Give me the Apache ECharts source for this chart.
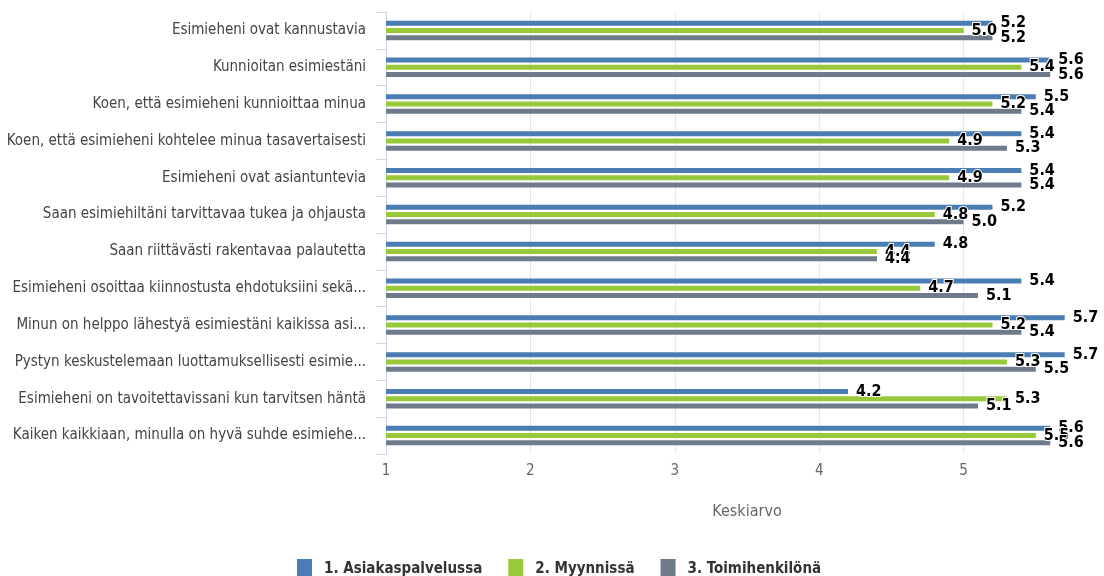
<!DOCTYPE html>
<html>
<head>
<meta charset="utf-8">
<style>
  html, body { margin: 0; padding: 0; background: #ffffff; }
  #chart { width: 1104px; height: 576px; }
</style>
<script src="https://cdn.jsdelivr.net/npm/echarts@6/dist/echarts.min.js"></script>
</head>
<body>
<div id="chart"></div>
<script>
// Questions shown on the category axis, top to bottom
const categories = [
  'Esimieheni ovat kannustavia',
  'Kunnioitan esimiestäni',
  'Koen, että esimieheni kunnioittaa minua',
  'Koen, että esimieheni kohtelee minua tasavertaisesti',
  'Esimieheni ovat asiantuntevia',
  'Saan esimiehiltäni tarvittavaa tukea ja ohjausta',
  'Saan riittävästi rakentavaa palautetta',
  'Esimieheni osoittaa kiinnostusta ehdotuksiini sekä...',
  'Minun on helppo lähestyä esimiestäni kaikissa asi...',
  'Pystyn keskustelemaan luottamuksellisesti esimie...',
  'Esimieheni on tavoitettavissani kun tarvitsen häntä',
  'Kaiken kaikkiaan, minulla on hyvä suhde esimiehe...'
];

const seriesNames = ['1. Asiakaspalvelussa', '2. Myynnissä', '3. Toimihenkilönä'];

// Mean scores per group
const asiakaspalvelussa = [5.2, 5.6, 5.5, 5.4, 5.4, 5.2, 4.8, 5.4, 5.7, 5.7, 4.2, 5.6];
const myynnissa        = [5.0, 5.4, 5.2, 4.9, 4.9, 4.8, 4.4, 4.7, 5.2, 5.3, 5.3, 5.5];
const toimihenkilona   = [5.2, 5.6, 5.4, 5.3, 5.4, 5.0, 4.4, 5.1, 5.4, 5.5, 5.1, 5.6];

const xTicks = [1, 2, 3, 4, 5, 6];

const colors = ['#4a7db3', '#97c93a', '#6e7b8b'];
const font = "'Liberation Sans Narrow', 'DejaVu Sans Condensed', 'Noto Sans', sans-serif";

const chart = echarts.init(document.getElementById('chart'), null, { renderer: 'canvas' });

function barSeries(name, data, color) {
  return {
    name: name,
    type: 'bar',
    data: data,
    barWidth: 5,
    barGap: '45%',
    itemStyle: { color: color },
    label: {
      show: true,
      position: 'right',
      distance: 8,
      formatter: p => p.value.toFixed(1),
      color: '#000000',
      fontFamily: font,
      fontWeight: 'bold',
      fontSize: 16,
      textBorderColor: '#ffffff',
      textBorderWidth: 2
    },
    emphasis: { disabled: true },
    animation: false
  };
}

chart.setOption({
  animation: false,
  color: colors,
  grid: {
    left: 386, top: 12, width: 722, height: 442,
    containLabel: false,
    outerBoundsMode: 'none'
  },
  xAxis: {
    type: 'value',
    min: xTicks[0],
    max: xTicks[xTicks.length - 1],
    interval: 1,
    name: 'Keskiarvo',
    nameLocation: 'middle',
    nameGap: 50,
    nameTextStyle: { color: '#666666', fontSize: 16, fontFamily: font },
    axisLine: { show: false },
    axisTick: { show: false },
    axisLabel: {
      color: '#666666', fontSize: 15, fontFamily: font, margin: 10,
      formatter: v => String(v)
    },
    splitLine: { show: true, lineStyle: { color: '#e6e6e6', width: 1 } }
  },
  yAxis: {
    type: 'category',
    data: categories,
    inverse: true,
    axisLine: { show: true, lineStyle: { color: '#ccd6eb', width: 1 } },
    axisTick: { show: true, length: 10, lineStyle: { color: '#ccd6eb' } },
    axisLabel: {
      color: '#444444', fontSize: 15, fontFamily: font, margin: 20
    },
    splitLine: { show: false }
  },
  legend: {
    left: 297,
    top: 559,
    padding: 0,
    itemWidth: 15,
    itemHeight: 20,
    itemGap: 26,
    icon: 'rect',
    textStyle: {
      color: '#333333', fontWeight: 'bold', fontSize: 15, fontFamily: font,
      padding: [0, 0, 0, 7]
    },
    data: seriesNames
  },
  series: [
    barSeries(seriesNames[0], asiakaspalvelussa, colors[0]),
    barSeries(seriesNames[1], myynnissa, colors[1]),
    barSeries(seriesNames[2], toimihenkilona, colors[2])
  ]
});
</script>
</body>
</html>
